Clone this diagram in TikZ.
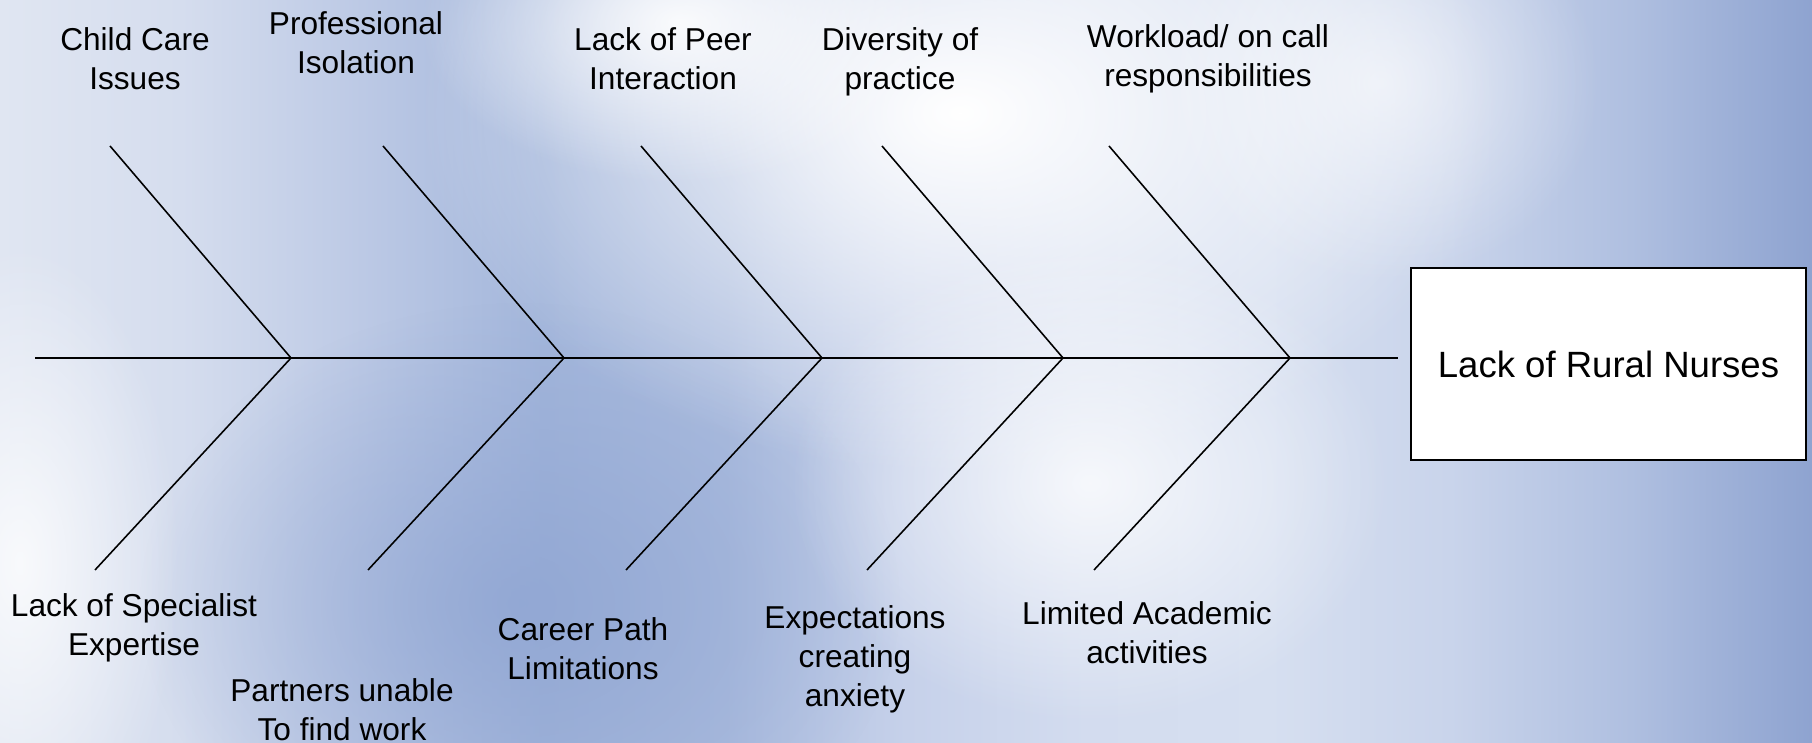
\documentclass[tikz,border=0pt]{standalone}
\usepackage{fontspec}
\setmainfont{Liberation Sans}
\usetikzlibrary{fadings}
\definecolor{c0}{HTML}{E0E6F2}
\definecolor{c1}{HTML}{D5DDEE}
\definecolor{c2}{HTML}{BCC9E5}
\definecolor{c3}{HTML}{A3B6DB}
\definecolor{c4}{HTML}{ABBCDE}
\definecolor{c5}{HTML}{C6D1EA}
\definecolor{c6}{HTML}{D3DCEF}
\definecolor{c7}{HTML}{D6DFF0}
\definecolor{c8}{HTML}{C9D4EB}
\definecolor{c9}{HTML}{AFBFE0}
\definecolor{c10}{HTML}{8EA3D0}
\definecolor{azulfondo}{HTML}{8EA4D2}
\pgfdeclarehorizontalshading{cielo}{100bp}{color(0bp)=(c0); color(25bp)=(c0); color(30bp)=(c1);
  color(35bp)=(c2); color(40bp)=(c3); color(45bp)=(c4); color(50bp)=(c5); color(55bp)=(c6);
  color(60bp)=(c7); color(65bp)=(c8); color(70bp)=(c9); color(75bp)=(c10); color(100bp)=(c10)}
\tikzfading[name=difusa, inner color=transparent!0, outer color=transparent!100]
\tikzset{nube/.style={path fading=difusa}}
\begin{document}
\begin{tikzpicture}[espina/.style={draw=black,line width=0.45pt},
  causa/.style={align=center,font=\fontsize{9}{11.1}\selectfont,inner sep=0pt}]
\useasboundingbox (0,0) rectangle (18.12,7.43);
% fondo de nubes
\shade[shading=cielo] (0,0) rectangle (18.12,7.43);
\fill[azulfondo,nube,opacity=0.8] (5.2,1.4) ellipse (3.8 and 3.0);
\fill[white,nube] (9.6,6.3) ellipse (5.4 and 3.6);
\fill[white,nube,opacity=0.9] (6.8,7.2) ellipse (2.6 and 1.6);
\fill[white,nube,opacity=0.8] (10.9,2.6) ellipse (3.0 and 2.4);
\fill[white,nube,opacity=0.8] (0.2,1.8) ellipse (1.6 and 3.2);
\fill[white,nube,opacity=0.6] (13.8,6.6) ellipse (2.2 and 2.0);
% efecto
\node[draw,fill=white,line width=0.7pt,minimum width=3.95cm,minimum height=1.92cm,
  font=\fontsize{10.4}{12}\selectfont] (efecto) at (16.085,3.79) {Lack of Rural Nurses};
\coordinate (cola) at (0.35,3.85);
\coordinate (cabeza) at (13.98,3.85);
\draw[espina,line width=0.7pt] (cola) -- (cabeza);
\foreach \x/\n in {2.91/1,5.64/2,8.22/3,10.63/4,12.90/5}{
  \coordinate (j\n) at (\x,3.85);
  \coordinate (a\n) at (\x-1.81,5.97);
  \coordinate (b\n) at (\x-1.96,1.73);
  \draw[espina] (a\n) -- (j\n) -- (b\n);
}
% causas de arriba
\node[causa] (cuidado) at (1.35,6.845) {Child Care\\Issues};
\node[causa] (aislamiento) at (3.56,7.005) {Professional\\Isolation};
\node[causa] (pares) at (6.63,6.845) {Lack of Peer\\Interaction};
\node[causa] (diversidad) at (9.00,6.81) {Diversity of\\practice};
\node[causa] (carga) at (12.08,6.845) {Workload/ on call\\responsibilities};
% causas de abajo
\node[causa] (especialista) at (1.34,1.155) {Lack of Specialist\\Expertise};
\node[causa] (parejas) at (3.42,0.335) {Partners unable\\To find work};
\node[causa] (carrera) at (5.83,0.94) {Career Path\\Limitations};
\node[causa] (ansiedad) at (8.55,0.84) {Expectations\\creating\\anxiety};
\node[causa] (academico) at (11.47,1.105) {Limited Academic\\activities};
\end{tikzpicture}
\end{document}
